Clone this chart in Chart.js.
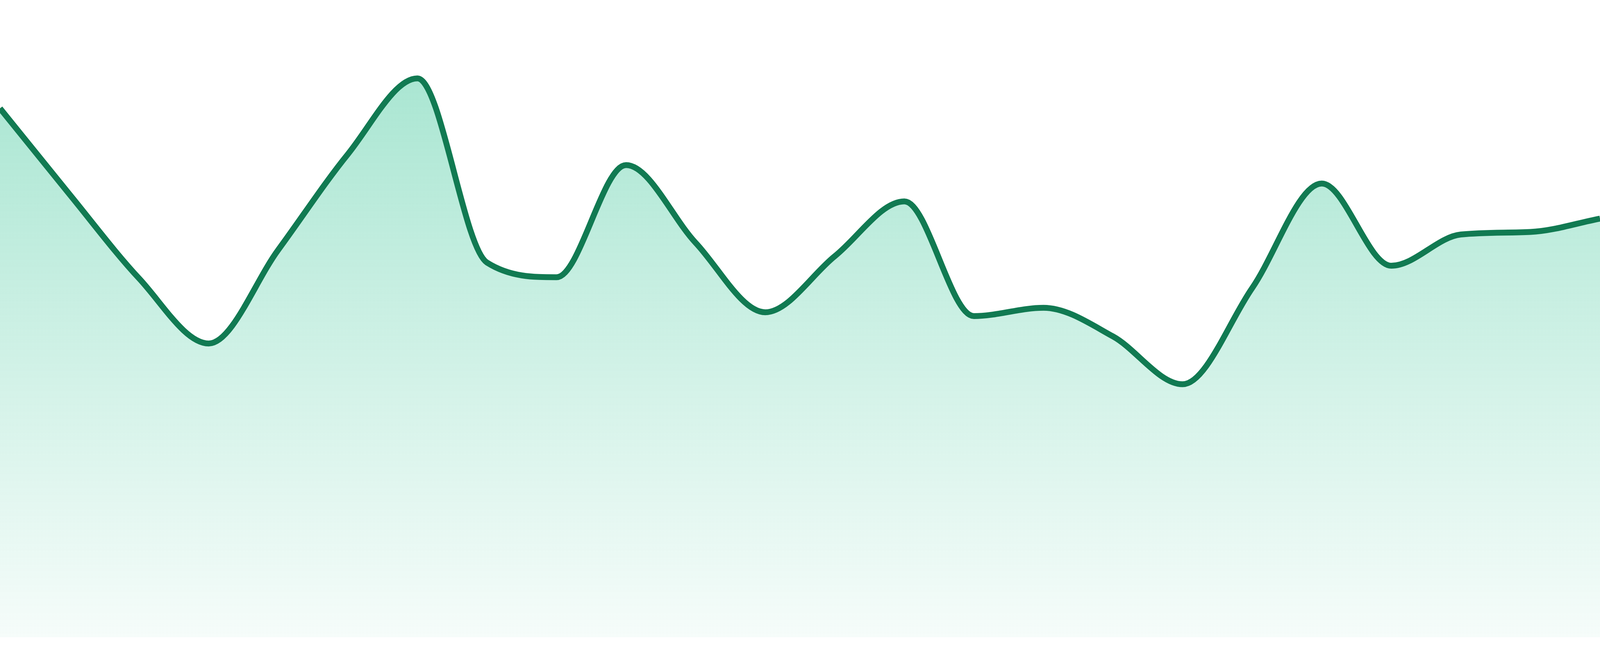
<!DOCTYPE html>
<html>
<head>
<meta charset="utf-8">
<title>Trend</title>
<script src="https://cdn.jsdelivr.net/npm/chart.js@4.4.1/dist/chart.umd.min.js"></script>
<style>
	html, body {
		margin: 0;
		padding: 0;
		width: 100%;
		height: 100%;
		overflow: hidden;
		background: #ffffff;
	}
	#wrap {
		position: relative;
		width: 100vw;
		height: 100vh;
	}
</style>
</head>
<body>
<div id="wrap"><canvas id="chart"></canvas></div>
<script>
let labels = [
	'1', '2', '3', '4', '5', '6', '7', '8',
	'9', '10', '11', '12', '13', '14', '15', '16',
	'17', '18', '19', '20', '21', '22', '23', '24',
];
let values = [
	83.0, 69.5, 56.3, 46.1, 60.8, 75.8, 87.7, 58.8,
	56.5, 74.1, 61.9, 51.0, 59.8, 68.4, 50.4, 51.7,
	47.2, 39.7, 54.8, 71.2, 58.3, 63.2, 63.6, 65.7,
];
let yMin = 0;
let yMax = 100;

let lineColor = '#117a52';

// sizes below are in screenshot pixels, the page may be zoomed
let unit = window.innerHeight / 1680;

function areaFill(context) {
	let {chart} = context;
	let area = chart.chartArea;
	if (!area) {
		return 'rgba(16, 185, 129, 0.2)';
	}
	let g = chart.ctx.createLinearGradient(0, area.top, 0, area.bottom);
	g.addColorStop(0, 'rgba(16, 185, 129, 0.40)');
	g.addColorStop(1, 'rgba(16, 185, 129, 0.04)');
	return g;
}

new Chart(document.getElementById('chart'), {
	type: 'line',
	data: {
		labels,
		datasets: [{
			data: values,
			borderColor: lineColor,
			borderWidth: 15 * unit,
			backgroundColor: areaFill,
			fill: 'origin',
			cubicInterpolationMode: 'monotone',
			pointRadius: 0,
			pointHoverRadius: 0,
		}],
	},
	options: {
		responsive: true,
		maintainAspectRatio: false,
		animation: false,
		layout: {
			padding: {top: 0, right: 0, bottom: 48 * unit, left: 0},
		},
		plugins: {
			legend: {display: false},
			tooltip: {enabled: false},
		},
		scales: {
			x: {display: false},
			y: {display: false, min: yMin, max: yMax},
		},
	},
});
</script>
</body>
</html>
